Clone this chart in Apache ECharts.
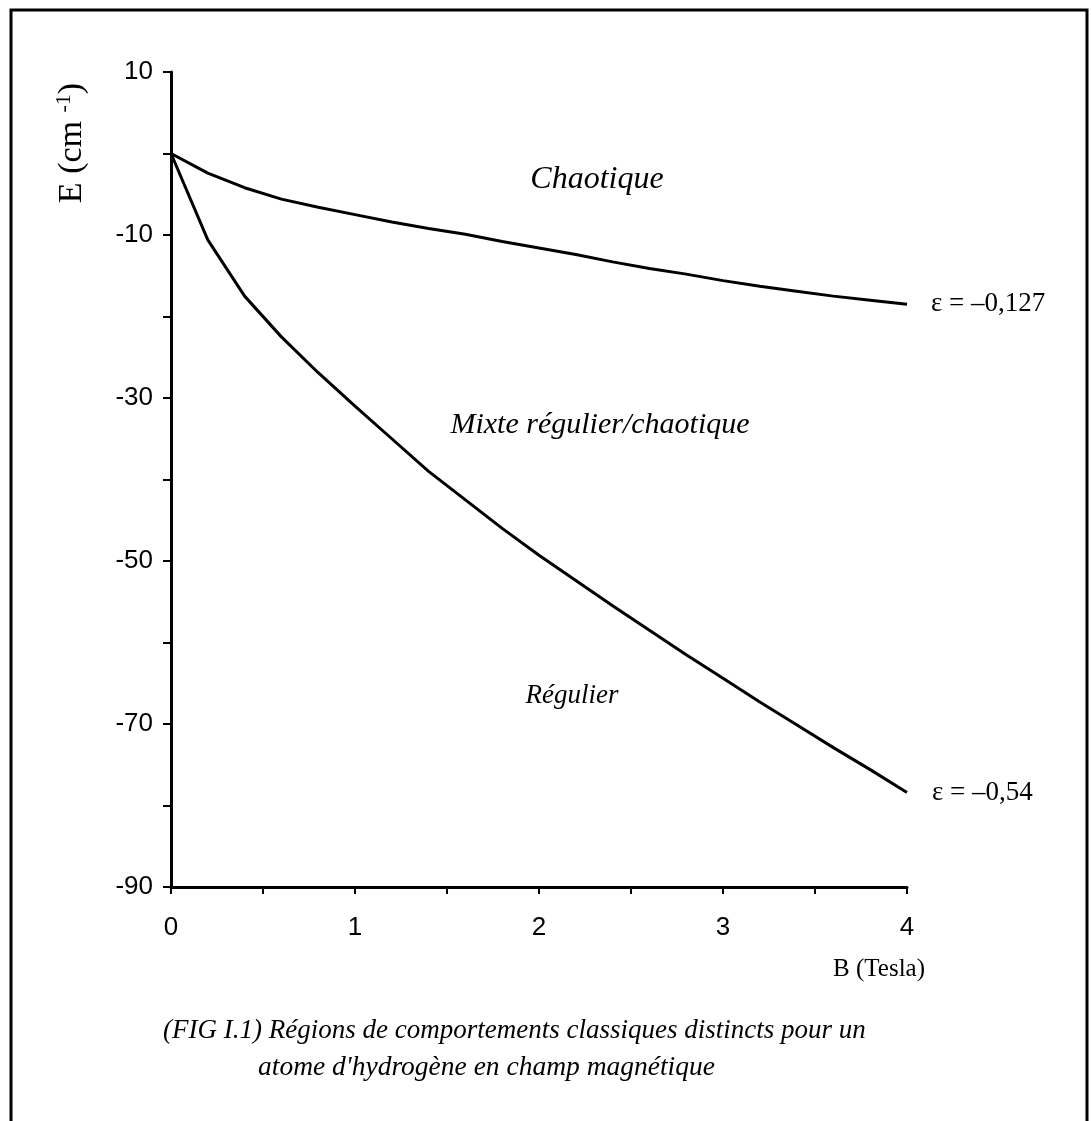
<!DOCTYPE html>
<html>
<head>
<meta charset="utf-8">
<script src="https://cdn.jsdelivr.net/npm/echarts@6/dist/echarts.min.js"></script>
<style>
  html, body { margin: 0; padding: 0; background: #fff; }
  #chart { width: 1091px; height: 1121px; }
</style>
</head>
<body>
<div id="chart"></div>
<script>
// champ magnétique B (Tesla)
var fieldB = [0, 0.2, 0.4, 0.6, 0.8, 1.0, 1.2, 1.4, 1.6, 1.8, 2.0, 2.2, 2.4, 2.6, 2.8, 3.0, 3.2, 3.4, 3.6, 3.8, 4.0];
// frontière chaotique, epsilon = -0,127
var energyChaos = [0, -2.4, -4.2, -5.6, -6.6, -7.5, -8.4, -9.2, -9.9, -10.8, -11.6, -12.4, -13.3, -14.1, -14.8, -15.6, -16.3, -16.9, -17.5, -18.0, -18.5];
// frontière régulière, epsilon = -0,54
var energyRegular = [0, -10.6, -17.5, -22.5, -26.9, -31.0, -35.0, -39.0, -42.5, -46.0, -49.3, -52.4, -55.5, -58.5, -61.5, -64.4, -67.3, -70.1, -72.9, -75.6, -78.4];
var yTicks = [-90, -70, -50, -30, -10, 10];
var xTicks = [0, 1, 2, 3, 4];

var serif = '"Liberation Serif", "DejaVu Serif", serif';
var sans = '"Liberation Sans", "DejaVu Sans", sans-serif';

function pairs(xs, ys) {
	return xs.map(function (x, i) { return [x, ys[i]]; });
}

var myChart = echarts.init(document.getElementById('chart'));

var option = {
	backgroundColor: '#fff',
	animation: false,
	grid: { left: 171, right: 184, top: 72, bottom: 234 },
	xAxis: {
		type: 'value',
		min: 0,
		max: 4,
		interval: 0.5,
		splitLine: { show: false },
		axisLine: { onZero: false, lineStyle: { color: '#000', width: 3 } },
		axisTick: { length: 7, lineStyle: { color: '#000', width: 2 } },
		axisLabel: {
			margin: 28,
			color: '#000',
			fontFamily: sans,
			fontSize: 26,
			formatter: function (v) {
				return xTicks.indexOf(v) >= 0 ? String(v) : '';
			}
		}
	},
	yAxis: {
		type: 'value',
		min: -90,
		max: 10,
		interval: 10,
		splitLine: { show: false },
		axisLine: { onZero: false, lineStyle: { color: '#000', width: 3 } },
		axisTick: { length: 8, lineStyle: { color: '#000', width: 2 } },
		axisLabel: {
			margin: 18,
			color: '#000',
			fontFamily: sans,
			fontSize: 26,
			formatter: function (v) {
				return yTicks.indexOf(v) >= 0 ? String(v) : '';
			}
		}
	},
	series: [
		{
			type: 'line',
			data: pairs(fieldB, energyChaos),
			symbol: 'none',
			lineStyle: { color: '#000', width: 3 },
			endLabel: {
				show: true,
				distance: 24,
				formatter: 'ε = –0,127',
				color: '#000',
				fontFamily: serif,
				fontSize: 27
			}
		},
		{
			type: 'line',
			data: pairs(fieldB, energyRegular),
			symbol: 'none',
			lineStyle: { color: '#000', width: 3 },
			endLabel: {
				show: true,
				distance: 25,
				formatter: 'ε = –0,54',
				color: '#000',
				fontFamily: serif,
				fontSize: 27
			}
		}
	],
	graphic: [
		// cadre
		{
			type: 'rect',
			shape: { x: 11, y: 10, width: 1076, height: 1140 },
			style: { fill: 'none', stroke: '#000', lineWidth: 3 },
			silent: true
		},
		{
			type: 'text',
			x: 72, y: 143,
			rotation: Math.PI / 2,
			style: {
				text: '{a|E (cm }{s|-1}{a|)}',
				align: 'center',
				verticalAlign: 'middle',
				rich: {
					a: { fontFamily: serif, fontSize: 34, fill: '#000', lineHeight: 38 },
					s: { fontFamily: serif, fontSize: 22, fill: '#000', lineHeight: 38, verticalAlign: 'top', padding: [0, 0, 12, 0] }
				}
			}
		},
		{
			type: 'text',
			x: 925, y: 969,
			style: { text: 'B (Tesla)', align: 'right', verticalAlign: 'middle', fontFamily: serif, fontSize: 25, fill: '#000' }
		},
		{
			type: 'text',
			x: 597, y: 180,
			style: { text: 'Chaotique', align: 'center', verticalAlign: 'middle', fontFamily: serif, fontStyle: 'italic', fontSize: 32, fill: '#000' }
		},
		{
			type: 'text',
			x: 600, y: 425,
			style: { text: 'Mixte régulier/chaotique', align: 'center', verticalAlign: 'middle', fontFamily: serif, fontStyle: 'italic', fontSize: 30, fill: '#000' }
		},
		{
			type: 'text',
			x: 572, y: 696,
			style: { text: 'Régulier', align: 'center', verticalAlign: 'middle', fontFamily: serif, fontStyle: 'italic', fontSize: 27, fill: '#000' }
		},
		{
			type: 'text',
			x: 163, y: 1031,
			style: { text: '(FIG I.1) Régions de comportements classiques distincts pour un', align: 'left', verticalAlign: 'middle', fontFamily: serif, fontStyle: 'italic', fontSize: 27, fill: '#000' }
		},
		{
			type: 'text',
			x: 258, y: 1068,
			style: { text: "atome d'hydrogène en champ magnétique", align: 'left', verticalAlign: 'middle', fontFamily: serif, fontStyle: 'italic', fontSize: 27.5, fill: '#000' }
		}
	]
};

myChart.setOption(option);
</script>
</body>
</html>
